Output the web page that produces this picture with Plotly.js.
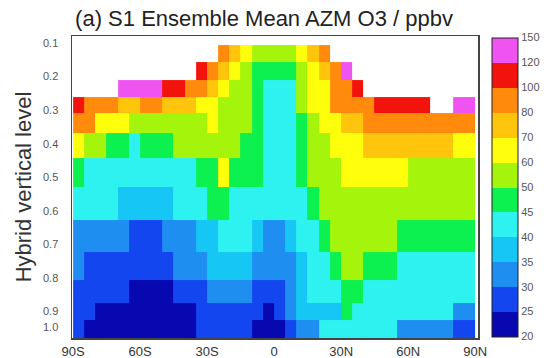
<!DOCTYPE html>
<html>
<head>
<meta charset="utf-8">
<script src="https://cdn.plot.ly/plotly-3.0.1.min.js"></script>
<style>html,body{margin:0;padding:0;background:#fff;}#chart{width:549px;height:358px;}</style>
</head>
<body>
<div id="chart"></div>
<script>
// Latitude cell centres (5 degree bands), degrees (negative = S)
const lat = [-87.5,-82.5,-77.5,-72.5,-67.5,-62.5,-57.5,-52.5,-47.5,-42.5,-37.5,-32.5,
             -27.5,-22.5,-17.5,-12.5,-7.5,-2.5,2.5,7.5,12.5,17.5,22.5,27.5,
             32.5,37.5,42.5,47.5,52.5,57.5,62.5,67.5,72.5,77.5,82.5,87.5];
// Hybrid vertical level cell edges (top to bottom)
const levelEdges = [0.106,0.157,0.210,0.261,0.309,0.368,0.443,0.529,0.627,0.723,0.806,0.875,0.925,0.979];

// Zonal-mean O3 (ppbv), one row per level, south to north; null = no data
const lev01 = [null,null,null,null,null,null,null,null,null,null,null,null,null,90,75,65,55,55,55,55,65,75,90,null,null,null,null,null,null,null,null,null,null,null,null,null];
const lev02 = [null,null,null,null,null,null,null,null,null,null,null,110,90,75,65,55,47,47,47,47,55,65,75,90,135,null,null,null,null,null,null,null,null,null,null,null];
const lev03 = [null,null,null,null,135,135,135,135,110,110,90,90,75,65,55,55,47,42,42,42,55,65,65,90,90,110,null,null,null,null,null,null,null,null,null,null];
const lev04 = [110,90,90,90,75,75,90,90,75,75,75,65,65,55,55,55,47,42,42,42,55,65,65,90,90,90,90,110,110,110,110,110,null,null,135,135];
const lev05 = [90,90,65,65,65,55,55,55,55,55,55,55,65,55,55,55,47,42,42,42,47,55,65,65,75,75,90,90,90,90,90,90,90,90,90,90];
const lev06 = [65,55,55,47,47,42,47,47,47,55,55,55,55,55,55,47,47,42,42,42,47,55,55,65,65,65,75,75,75,75,75,75,75,75,65,65];
const lev07 = [47,42,42,42,42,42,42,42,42,42,42,47,47,65,47,47,47,42,42,42,47,55,55,55,65,65,65,65,65,65,55,55,55,55,55,55];
const lev08 = [42,42,42,42,37,37,37,37,37,42,42,42,47,47,42,42,42,42,42,42,42,47,55,55,55,55,55,55,55,55,55,55,55,55,55,55];
const lev09 = [32,32,32,32,32,27,27,27,32,32,32,37,37,42,42,42,37,32,32,37,42,42,47,55,55,55,55,55,55,47,47,47,47,47,47,47];
const lev10 = [32,27,27,27,27,27,27,27,27,32,32,32,37,37,37,37,32,32,32,32,37,42,42,47,55,55,47,47,47,42,42,42,42,42,42,42];
const lev11 = [27,27,27,27,27,22,22,22,22,27,27,27,32,32,32,32,27,27,27,32,37,42,42,42,47,47,42,42,42,42,42,42,42,42,42,42];
const lev12 = [27,27,22,22,22,22,22,22,22,22,22,27,27,27,27,27,27,22,27,32,37,37,37,37,47,42,42,42,42,42,42,42,42,42,32,32];
const lev13 = [27,22,22,22,22,22,22,22,22,22,22,27,27,27,27,27,22,22,22,27,32,32,42,42,42,42,42,42,42,32,32,32,32,32,27,27];
const o3 = [lev01,lev02,lev03,lev04,lev05,lev06,lev07,lev08,lev09,lev10,lev11,lev12,lev13];

// Axis tick labels
const latTickVals = [-90,-60,-30,0,30,60,90];
const latTickText = ['90S','60S','30S','0','30N','60N','90N'];
const levTickVals = [0.1,0.2,0.3,0.4,0.5,0.6,0.7,0.8,0.9,0.948];
const levTickText = ['0.1','0.2','0.3','0.4','0.5','0.6','0.7','0.8','0.9','1.0'];

// Contour levels (ppbv) and colours
const cbLevels = [20,25,30,35,40,45,50,60,70,80,100,120,150];
const cbColors = ['#0808b0','#1446f0','#1e8ef0','#16c6f4','#2ef2f0','#0cf050','#a4f40c','#ffff0c','#ffc40c','#ff8a0c','#f2140c','#f054f0'];

const nCls = cbColors.length;
function toClass(v){
  if (v === null) return null;
  for (let i = 0; i < nCls; i++) if (v < cbLevels[i+1]) return i + 0.5;
  return nCls - 0.5;
}
const zCls = o3.map(r => r.map(toClass));
const colorscale = [];
cbColors.forEach((c,i) => { colorscale.push([i/nCls, c]); colorscale.push([(i+1)/nCls, c]); });

const plotL = 72, plotR = 478, W = 549, H = 358;
const cbX = (492 - plotL) / (plotR - plotL);
const cbThick = 26;
const cbLen = 0.99, cbY0 = 0.005;
const FONT = 'Liberation Sans, Arial, sans-serif';

const trace = {
  type: 'heatmap',
  x: lat, y: levelEdges, z: zCls,
  zmin: 0, zmax: nCls, zsmooth: false,
  colorscale: colorscale,
  hoverinfo: 'skip',
  colorbar: {
    x: cbX, xanchor: 'left', xpad: 0, ypad: 0,
    y: 0.5, yanchor: 'middle', len: cbLen, lenmode: 'fraction',
    thickness: cbThick, thicknessmode: 'pixels',
    outlinewidth: 1, outlinecolor: '#222',
    tickmode: 'array', tickvals: cbLevels.map((_,i) => i), ticktext: cbLevels.map(String),
    ticks: '', ticklabelstandoff: 4,
    tickfont: {family: FONT, size: 11, color: '#555'}
  }
};

const shapes = [];
for (let i = 1; i < nCls; i++) {
  const yy = cbY0 + i * cbLen / nCls;
  shapes.push({type:'line', xref:'paper', yref:'paper', x0: cbX, x1: cbX + cbThick/(plotR-plotL), y0: yy, y1: yy,
               line:{color:'#222', width:1}});
}

const layout = {
  width: W, height: H,
  margin: {l: plotL, r: W - plotR, t: 36, b: 20, pad: 0},
  paper_bgcolor: '#fff', plot_bgcolor: '#fff',
  font: {family: FONT, color: '#333'},
  title: {text: '(a) S1 Ensemble Mean AZM O3 / ppbv', xref: 'paper', x: 0.473, xanchor: 'center',
          yref: 'container', y: 0.95, yanchor: 'middle',
          font: {family: FONT, size: 22, color: '#222'}},
  xaxis: {range: [-90.5, 91.3], tickmode: 'array', tickvals: latTickVals, ticktext: latTickText,
          showgrid: false, zeroline: false, ticks: '', showline: true, mirror: true,
          linecolor: '#444', linewidth: 1.5, ticklabelstandoff: 1,
          tickfont: {family: FONT, size: 13, color: '#333'}},
  yaxis: {range: [0.979, 0.079], tickmode: 'array', tickvals: levTickVals, ticktext: levTickText,
          showgrid: false, zeroline: false, ticks: '', showline: true, mirror: true,
          linecolor: '#444', linewidth: 1.5, ticklabelstandoff: 10,
          tickfont: {family: FONT, size: 11, color: '#555'},
          title: {text: 'Hybrid vertical level', standoff: 5, font: {family: FONT, size: 22, color: '#333'}}},
  shapes: shapes
};

Plotly.newPlot('chart', [trace], layout, {displayModeBar: false, staticPlot: true});
</script>
</body>
</html>
